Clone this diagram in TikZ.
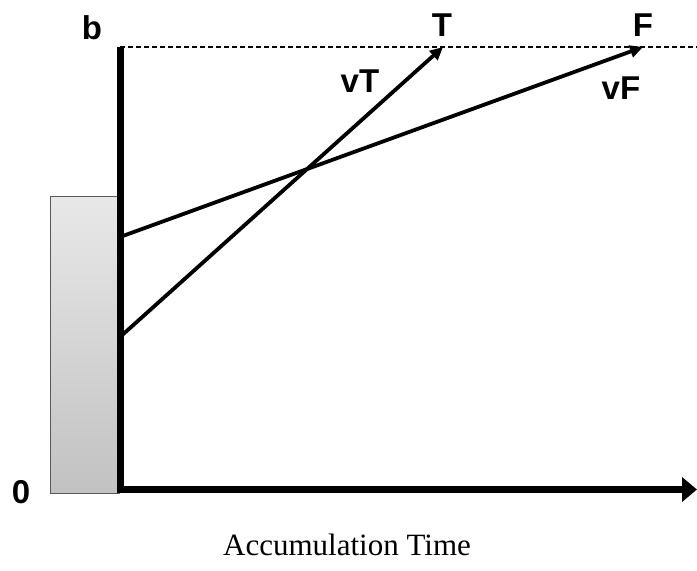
\documentclass[tikz,border=0pt]{standalone}
\usepackage{fontspec}
\setmainfont{Liberation Serif}
\newfontfamily\labfont{Liberation Sans}
\usetikzlibrary{arrows.meta}
\begin{document}
\begin{tikzpicture}[x=1pt,y=-1pt,
  lab/.style={font=\labfont\bfseries\fontsize{33}{33}\selectfont, inner sep=0pt},
  axisline/.style={line width=7pt},
  ray/.style={line width=3.8pt, -{Triangle[length=13pt,width=12pt]}},
  bar/.style={draw=black!65, line width=0.8pt, top color=black!9, bottom color=black!24}
]
\useasboundingbox (0,0) rectangle (697,571);
% coordinates
\coordinate (origin) at (120,489.5);
\coordinate (ytop) at (120,47);
\coordinate (xend) at (697,489.5);
\coordinate (dashend) at (697,47);
\coordinate (tstart) at (120,337);
\coordinate (fstart) at (120,237);
\coordinate (ttip) at (443,47);
\coordinate (ftip) at (643,47);
% bar
\path[bar] (50,196) rectangle (119,493);
% dashed level line
\draw[line width=1.8pt, dash pattern=on 5pt off 3pt] (ytop) -- (dashend);
% axes
\draw[axisline] (120,493) -- (ytop);
\draw[axisline, -{Triangle[length=15pt,width=24pt]}] (116.5,489.5) -- (xend);
% rays
\draw[ray] (tstart) -- (ttip);
\draw[ray] (fstart) -- (ftip);
% labels
\node[lab] (b) at (92,28) {b};
\node[lab] (zero) at (21,492) {0};
\node[lab] (T) at (442,25) {T};
\node[lab] (F) at (643,25) {F};
\node[lab] (vT) at (360,81) {vT};
\node[lab] (vF) at (621,88) {vF};
\node[font=\fontsize{31}{31}\selectfont, inner sep=0pt] (xl) at (347,545) {Accumulation Time};
\end{tikzpicture}
\end{document}
